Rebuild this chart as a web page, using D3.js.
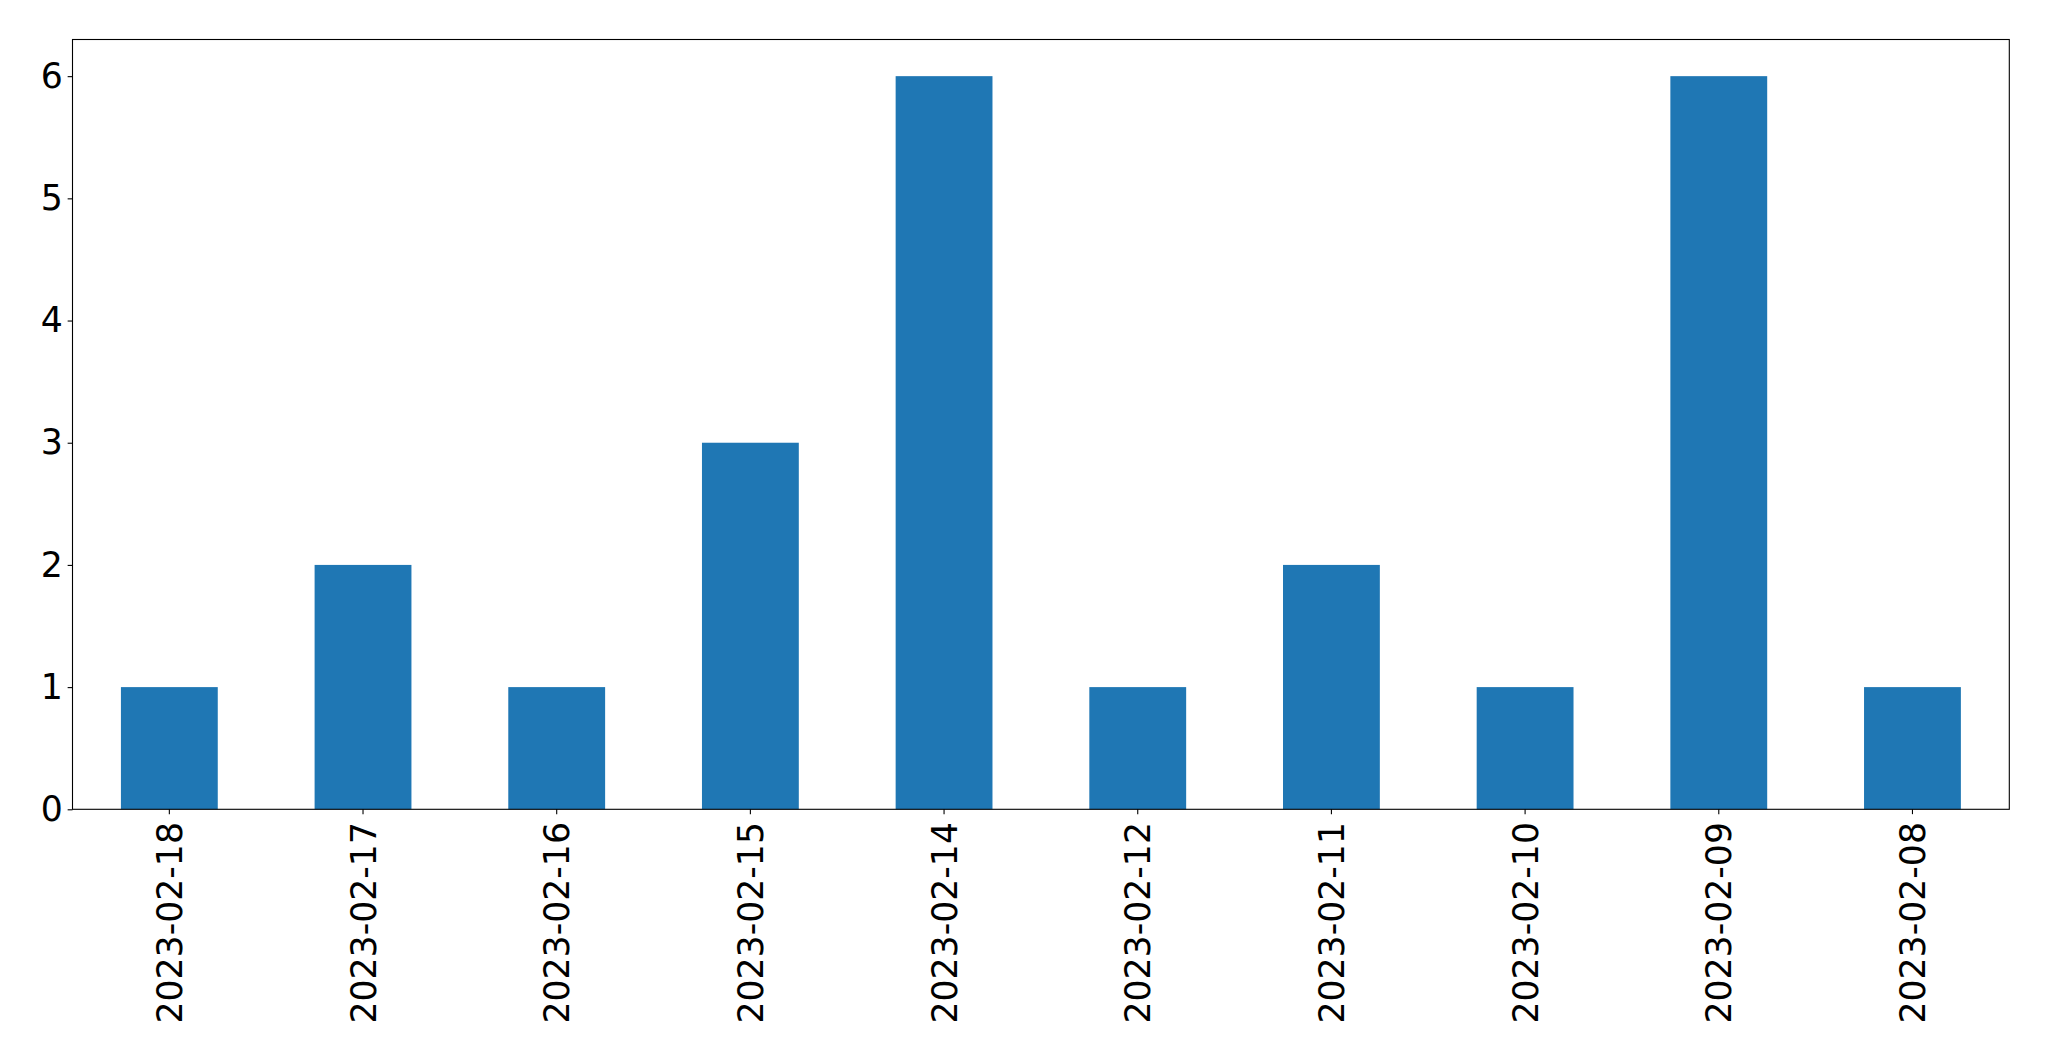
<!DOCTYPE html>
<html>
<head>
<meta charset="utf-8">
<script src="https://cdn.jsdelivr.net/npm/d3@7"></script>
<style>
html,body{margin:0;padding:0;background:#fff;}
svg{display:block;}
text{font-family:"DejaVu Sans",sans-serif;fill:#000;}
</style>
</head>
<body>
<script>
const categories = ["2023-02-18","2023-02-17","2023-02-16","2023-02-15","2023-02-14","2023-02-12","2023-02-11","2023-02-10","2023-02-09","2023-02-08"];
const values = [1,2,1,3,6,1,2,1,6,1];
const yTicks = [0,1,2,3,4,5,6];

(function(){
const W = 2049, H = 1061;
const mLeft = 72.5, mRight = 2009.3, mTop = 39.5, mBottom = 809.3;
const fontSize = 34.7;
const tickLen = 4.86, pad = 4.86;

const svg = d3.select("body").append("svg").attr("width", W).attr("height", H);

const x = d3.scaleBand().domain(categories).range([mLeft, mRight]).paddingInner(0.5).paddingOuter(0.25);
const y = d3.scaleLinear().domain([0, 6.3]).range([mBottom, mTop]);

svg.append("g").selectAll("rect").data(values).join("rect")
  .attr("x", (d,i) => x(categories[i]))
  .attr("width", x.bandwidth())
  .attr("y", d => y(d))
  .attr("height", d => y(0) - y(d))
  .attr("fill", "#1f77b4");

svg.append("rect").attr("x", mLeft).attr("y", mTop).attr("width", mRight-mLeft).attr("height", mBottom-mTop)
  .attr("fill", "none").attr("stroke", "#000").attr("stroke-width", 1.1);

const yAxis = d3.axisLeft(y).tickValues(yTicks).tickFormat(d3.format("d")).tickSize(tickLen).tickPadding(pad);
const gy = svg.append("g").attr("transform", `translate(${mLeft},0)`).call(yAxis);
gy.select(".domain").remove();
gy.selectAll(".tick line").attr("stroke", "#000").attr("stroke-width", 1.1);
gy.selectAll(".tick text").attr("font-size", fontSize).attr("font-family", "DejaVu Sans").attr("fill", "#000");

const xAxis = d3.axisBottom(x).tickSize(tickLen).tickPadding(pad);
const gx = svg.append("g").attr("transform", `translate(0,${mBottom})`).call(xAxis);
gx.select(".domain").remove();
gx.selectAll(".tick line").attr("stroke", "#000").attr("stroke-width", 1.1);
gx.selectAll(".tick text")
  .attr("font-size", fontSize).attr("font-family", "DejaVu Sans").attr("fill", "#000")
  .attr("transform", "rotate(-90)")
  .attr("text-anchor", "end")
  .attr("x", -(tickLen + pad + 3))
  .attr("y", 0)
  .attr("dy", "0.36em");
})();
</script>
</body>
</html>
